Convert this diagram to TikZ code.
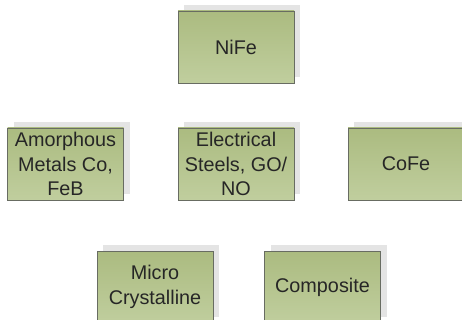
\documentclass[tikz,border=0pt]{standalone}
\usepackage{fontspec}
\setmainfont{Liberation Sans}
\usepackage{xcolor}
\usepackage{tikz}
\usetikzlibrary{shapes,shadows}
\definecolor{olivetop}{RGB}{171,187,128}
\definecolor{olivebot}{RGB}{192,206,158}
\definecolor{boxline}{RGB}{104,108,98}
\definecolor{shade}{RGB}{228,228,228}
\tikzstyle{box} = [draw=boxline, line width=0.8pt, top color=olivetop, bottom color=olivebot,
  minimum width=116pt, minimum height=72pt, inner sep=0pt, align=center,
  text=black!85, font=\fontsize{19.8}{24.5}\selectfont,
  drop shadow={shadow xshift=6pt, shadow yshift=6pt, opacity=1, fill=shade, draw=none}]

\begin{document}
\begin{tikzpicture}[x=1pt,y=-1pt]
\useasboundingbox (0,0) rectangle (462,320);
%
\node[box] (nife) at (236,47) {NiFe};
%
\node[box] (amorph) at (65.5,164) {Amorphous\\Metals Co,\\FeB};
\node[box] (elec) at (236,164) {Electrical\\Steels, GO/\\NO};
\node[box] (cofe) at (406,164) {CoFe};
%
\node[box] (micro) at (155,287) {Micro\\Crystalline};
\node[box] (comp) at (322.5,287) {Composite};
\end{tikzpicture}
\end{document}
